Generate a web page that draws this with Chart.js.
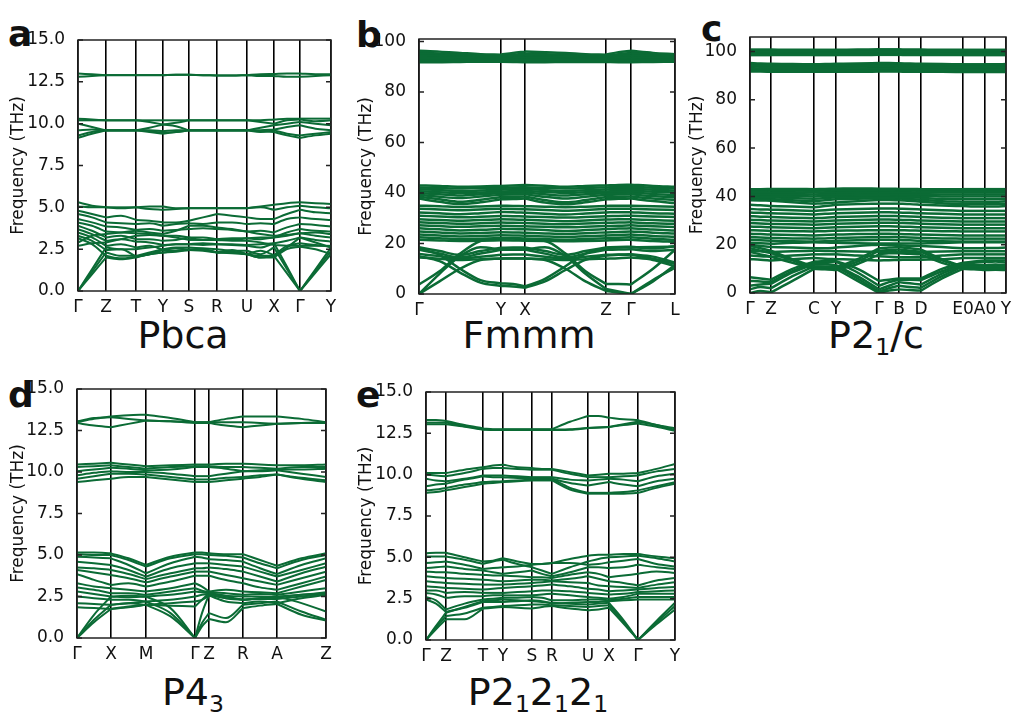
<!DOCTYPE html>
<html>
<head>
<meta charset="utf-8">
<script src="https://cdn.jsdelivr.net/npm/chart.js"></script>
<style>
  body { margin: 0; width: 1013px; height: 717px; background: #fff; position: relative; overflow: hidden; }
  .letter { position: absolute; font-family: 'DejaVu Sans', sans-serif; font-weight: bold; font-size: 36px; line-height: 36px; color: #111; }
  .title { position: absolute; width: 240px; text-align: center; font-family: 'DejaVu Sans', sans-serif; font-size: 38px; line-height: 38px; color: #111; }
  .title sub { font-size: 0.62em; vertical-align: -0.3em; line-height: 0; }
</style>
</head>
<body>
<div class="letter" style="left:8px;top:16px">a</div>
<div class="letter" style="left:356px;top:17px">b</div>
<div class="letter" style="left:701px;top:11px">c</div>
<div class="letter" style="left:8px;top:377px">d</div>
<div class="letter" style="left:356px;top:377px">e</div>
<div class="title" style="left:63px;top:316px">Pbca</div>
<div class="title" style="left:409px;top:316px">Fmmm</div>
<div class="title" style="left:756px;top:316px">P2<sub>1</sub>/c</div>
<div class="title" style="left:73px;top:673px">P4<sub>3</sub></div>
<div class="title" style="left:418px;top:673px">P2<sub>1</sub>2<sub>1</sub>2<sub>1</sub></div>

<script>
// ---- panel a : Pbca ----
var pbcaK = [0,14,28,43,58,71.5,85,98,111,125,139,154,169,182.5,196,209,222,237.5,253];
var pbcaTicks = [0,28,58,85,111,139,169,196,222,253];
var pbcaLabels = ['Γ','Z','T','Y','S','R','U','X','Γ','Y'];
var pbcaYTicks = [0,2.5,5,7.5,10,12.5,15];
var pbcaBands = [
  [13.0,12.95,12.9,12.9,12.9,12.9,12.9,12.92,12.92,12.9,12.88,12.88,12.9,12.95,12.97,13.0,13.0,12.95,12.95],
  [12.8,12.85,12.9,12.9,12.9,12.9,12.9,12.92,12.92,12.9,12.88,12.88,12.9,12.85,12.85,12.8,12.8,12.85,12.9],
  [10.3,10.25,10.2,10.2,10.2,10.2,10.2,10.2,10.2,10.2,10.2,10.2,10.2,10.2,10.25,10.3,10.3,10.3,10.3],
  [10.2,10.2,10.2,10.2,10.2,10.1,9.95,10.05,10.2,10.2,10.2,10.2,10.2,10.1,10.0,10.2,10.25,10.15,10.2],
  [10.0,9.8,9.6,9.6,9.6,9.75,9.95,9.85,9.6,9.6,9.6,9.6,9.6,9.75,9.9,10.0,10.1,10.0,9.9],
  [9.6,9.65,9.6,9.6,9.6,9.55,9.45,9.5,9.6,9.6,9.6,9.6,9.6,9.6,9.65,9.8,9.9,9.7,9.6],
  [9.3,9.5,9.6,9.6,9.6,9.6,9.55,9.6,9.6,9.6,9.6,9.6,9.6,9.5,9.6,9.4,9.3,9.4,9.5],
  [9.15,9.4,9.6,9.6,9.6,9.5,9.4,9.5,9.6,9.6,9.6,9.6,9.6,9.55,9.5,9.3,9.15,9.3,9.4],
  [5.3,5.1,5.0,5.0,5.0,5.05,5.05,4.95,4.95,4.95,4.95,4.95,4.95,5.05,5.15,5.25,5.3,5.25,5.2],
  [5.05,5.0,5.0,4.95,5.0,4.9,4.85,4.9,4.95,4.95,4.95,4.95,4.95,5.0,4.85,5.0,5.1,5.0,4.95],
  [4.8,4.6,4.4,4.5,4.25,4.2,4.1,4.1,4.2,4.4,4.6,4.5,4.4,4.3,4.3,4.6,4.85,4.7,4.65],
  [4.6,4.4,4.1,4.05,4.0,4.05,3.9,4.0,4.05,4.0,4.1,4.1,4.0,4.05,4.0,4.3,4.4,4.3,4.25],
  [4.3,4.1,3.85,3.8,3.65,3.7,3.6,3.65,3.7,3.75,3.7,3.65,3.55,3.6,3.5,3.8,4.0,3.95,3.85],
  [4.1,3.9,3.55,3.5,3.45,3.4,3.3,3.3,3.2,3.2,3.1,3.15,3.15,3.2,3.2,3.5,3.7,3.6,3.55],
  [3.9,3.6,3.2,3.3,3.1,3.1,3.0,3.05,3.2,3.05,3.1,3.05,3.15,3.1,3.2,3.3,3.45,3.3,3.2],
  [3.7,3.4,3.0,3.1,2.95,2.9,2.75,2.8,2.8,2.85,2.8,2.8,2.75,2.8,2.85,3.0,3.2,3.05,2.95],
  [3.5,3.2,2.7,2.8,2.6,2.7,2.45,2.55,2.45,2.5,2.3,2.45,2.2,2.4,2.15,2.7,2.85,2.75,2.65],
  [3.3,3.0,2.45,2.5,2.05,2.2,2.45,2.4,2.45,2.5,2.3,2.35,2.2,2.0,2.0,2.5,2.65,2.5,2.2],
  [3.15,2.8,2.1,1.95,2.05,2.2,2.3,2.35,2.45,2.4,2.3,2.3,2.2,2.1,2.1,2.6,3.2,2.9,2.6],
  [2.9,3.3,3.4,3.5,3.6,3.5,3.4,3.6,3.9,3.9,3.8,3.7,3.55,3.4,3.3,3.35,3.45,3.5,3.4],
  [2.7,2.85,2.9,3.1,3.3,3.35,3.3,3.2,3.05,3.05,3.05,3.0,3.0,2.9,2.75,2.7,2.7,2.7,2.7],
  [0,1.0,2.0,1.9,2.0,2.2,2.3,2.4,2.5,2.45,2.3,2.25,2.2,2.0,2.1,1.05,0,1.1,2.2],
  [0,1.15,2.3,2.1,2.1,2.3,2.5,2.6,2.6,2.55,2.5,2.4,2.4,2.2,2.6,1.3,0,1.2,2.4],
  [0,1.3,2.6,2.5,2.5,2.6,2.7,2.8,2.8,2.75,2.8,2.75,2.7,2.6,2.85,1.45,0,1.3,2.6]
];

// ---- panel b : Fmmm ----
var fmmmK = [0,20.5,41,61.5,82,94,106,126,146.5,166.5,187,199.5,212,234,256];
var fmmmTicks = [0,82,106,187,212,256];
var fmmmLabels = ['Γ','Y','X','Z','Γ','L'];
var fmmmYTicks = [0,20,40,60,80,100];
var fmmmBands = [
  [96.3,96.0,95.5,95.0,94.8,95.5,96.0,95.8,95.5,95.0,94.8,95.8,96.3,95.5,95.0],
  [95.5,95.3,95.0,94.7,94.5,94.8,95.2,95.0,94.8,94.6,94.5,95.0,95.5,95.0,94.7],
  [94.8,94.7,94.5,94.3,94.2,94.4,94.6,94.5,94.3,94.2,94.1,94.5,94.8,94.5,94.3],
  [94.0,94.0,93.9,93.8,93.7,93.8,93.9,93.9,93.8,93.7,93.6,93.8,94.0,93.8,93.8],
  [93.3,93.3,93.3,93.3,93.3,93.2,93.2,93.2,93.2,93.2,93.2,93.3,93.3,93.3,93.3],
  [92.7,92.7,92.8,92.8,92.8,92.7,92.6,92.7,92.7,92.7,92.7,92.7,92.7,92.8,92.8],
  [92.2,92.2,92.3,92.3,92.3,92.2,92.1,92.2,92.2,92.2,92.2,92.2,92.2,92.3,92.3],
  [91.8,91.8,91.9,92.0,92.0,91.9,91.8,91.8,91.9,91.9,91.9,91.8,91.8,91.9,92.0],
  [43.0,42.8,42.5,42.6,42.8,43.0,43.2,42.9,42.5,42.8,43.0,43.2,43.3,42.8,42.5],
  [42.2,42.0,41.8,41.9,42.0,42.2,42.3,42.0,41.8,42.0,42.2,42.4,42.5,42.1,41.9],
  [41.5,41.2,40.8,41.0,41.3,41.5,41.6,41.2,40.8,41.1,41.4,41.6,41.7,41.3,41.0],
  [40.7,40.3,40.0,40.2,40.5,40.8,40.9,40.4,40.0,40.3,40.6,40.8,40.9,40.5,40.2],
  [40.0,39.5,39.0,39.5,40.0,40.1,40.2,39.5,39.0,39.5,40.0,40.1,40.2,39.6,39.2],
  [39.3,38.5,38.0,38.6,39.3,39.4,39.5,38.5,37.8,38.5,39.3,39.4,39.5,38.8,38.3],
  [38.5,37.5,36.5,37.3,38.4,38.5,38.6,37.2,36.3,37.2,38.4,38.5,38.6,37.8,37.2],
  [37.8,36.5,35.6,36.3,37.5,37.6,37.8,36.2,35.5,36.3,37.5,37.7,37.8,36.8,36.0],
  [35.0,34.8,34.5,34.7,35.0,34.9,34.8,34.6,34.4,34.6,34.9,35.0,35.0,34.8,34.6],
  [33.8,33.5,33.2,33.5,33.8,33.7,33.6,33.3,33.0,33.3,33.7,33.8,33.8,33.5,33.3],
  [32.3,32.0,31.6,32.0,32.5,32.4,32.2,31.8,31.5,31.9,32.3,32.4,32.4,32.0,31.8],
  [31.0,30.7,30.4,30.6,30.9,30.8,30.7,30.5,30.3,30.5,30.8,30.9,31.0,30.7,30.5],
  [29.6,29.3,29.0,29.3,29.6,29.5,29.4,29.1,28.8,29.1,29.5,29.6,29.6,29.3,29.0],
  [28.4,28.1,27.8,28.0,28.3,28.2,28.1,27.8,27.6,27.9,28.2,28.3,28.4,28.0,27.8],
  [27.2,26.9,26.6,26.8,27.0,26.9,26.8,26.6,26.4,26.6,26.9,27.0,27.2,26.8,26.5],
  [26.0,25.6,25.2,25.4,25.8,25.7,25.6,25.3,25.0,25.3,25.7,25.9,26.0,25.5,25.2],
  [24.8,24.4,24.0,24.2,24.5,24.4,24.3,24.0,23.8,24.1,24.4,24.6,24.8,24.3,24.0],
  [23.6,23.2,22.8,23.0,23.3,23.2,23.1,22.8,22.6,22.9,23.2,23.4,23.6,23.0,22.7],
  [22.5,22.1,21.7,21.9,22.2,22.1,22.0,21.7,21.5,21.8,22.1,22.3,22.5,21.9,21.5],
  [21.5,21.2,21.0,21.1,21.3,21.2,21.1,21.0,20.9,21.0,21.2,21.4,21.5,21.0,20.7],
  [18.5,17.0,15.5,17.0,18.3,18.4,18.4,17.0,15.5,17.0,18.4,18.6,18.7,18.0,18.9],
  [17.5,16.0,14.5,16.0,17.5,17.6,17.6,16.0,14.5,16.0,17.5,17.6,17.7,17.0,17.5],
  [15.8,15.0,14.0,14.8,15.5,15.6,15.6,14.8,14.0,14.8,15.5,15.6,15.7,14.8,12.5],
  [14.5,14.0,13.5,13.8,14.0,14.1,14.1,13.8,13.5,13.8,14.0,14.2,14.5,13.5,11.0],
  [0,8,15,18.5,17.6,17.5,17.6,18.5,15,8,2.0,1.0,0,5.5,10.5],
  [0,5,10,13.5,14.1,14.1,14.1,13.5,10,5,1.2,0.6,0,5,11.5],
  [18.0,15.5,10,5.5,4.2,4.0,3.0,6,11,16,18.2,18.4,18.5,18.6,18.8],
  [15.0,13,8.5,4.5,3.2,3.0,2.5,5,9.5,13.5,15.2,15.5,15.6,14,12],
  [3.8,9,16,21,22,22,21.5,21,16,9,4,4,3.8,10,17.5]
];

// ---- panel c : P2_1/c ----
var p21cK = [0,10.5,21,42.5,64,75,86,107.5,129,139,149,160,171,192,213,224,235,245.5,256];
var p21cTicks = [0,21,64,86,129,149,171,213,235,256];
var p21cLabels = ['Γ','Z','C','Y','Γ','B','D','E0','A0','Y'];
var p21cYTicks = [0,20,40,60,80,100];
var p21cBands = [
  [100.8,100.8,100.8,100.7,100.7,100.7,100.7,100.8,100.9,100.9,100.9,100.8,100.8,100.7,100.7,100.7,100.7,100.7,100.7],
  [100.2,100.2,100.2,100.1,100.1,100.1,100.1,100.2,100.3,100.3,100.3,100.2,100.2,100.1,100.1,100.1,100.1,100.1,100.1],
  [99.6,99.6,99.6,99.6,99.5,99.5,99.5,99.6,99.7,99.7,99.7,99.6,99.6,99.5,99.5,99.5,99.5,99.5,99.5],
  [99.0,99.0,99.0,99.0,99.0,99.0,99.0,99.0,99.1,99.1,99.1,99.0,99.0,99.0,99.0,99.0,99.0,99.0,99.0],
  [98.5,98.5,98.5,98.5,98.5,98.5,98.5,98.5,98.6,98.6,98.6,98.5,98.5,98.5,98.5,98.5,98.5,98.5,98.5],
  [95.2,95.0,94.9,94.8,94.7,94.8,94.9,95.0,95.2,95.2,95.1,95.0,94.9,94.8,94.7,94.7,94.7,94.7,94.8],
  [94.5,94.4,94.3,94.2,94.1,94.2,94.3,94.4,94.5,94.5,94.4,94.3,94.3,94.2,94.1,94.1,94.1,94.1,94.2],
  [93.8,93.7,93.6,93.6,93.5,93.6,93.6,93.7,93.8,93.8,93.7,93.7,93.6,93.5,93.5,93.5,93.5,93.5,93.5],
  [93.1,93.0,93.0,92.9,92.9,92.9,92.9,93.0,93.1,93.1,93.0,93.0,92.9,92.9,92.9,92.9,92.9,92.9,92.9],
  [92.4,92.3,92.3,92.3,92.2,92.2,92.2,92.3,92.4,92.4,92.3,92.3,92.3,92.2,92.2,92.2,92.2,92.2,92.2],
  [91.7,91.7,91.6,91.6,91.6,91.6,91.6,91.6,91.7,91.7,91.7,91.6,91.6,91.6,91.5,91.5,91.5,91.5,91.5],
  [43.0,43.0,43.1,43.1,43.0,43.1,43.2,43.3,43.2,43.2,43.1,43.1,43.0,43.0,43.0,43.0,43.0,43.0,43.0],
  [42.3,42.3,42.4,42.4,42.3,42.4,42.5,42.6,42.5,42.5,42.4,42.4,42.3,42.3,42.3,42.3,42.3,42.3,42.3],
  [41.6,41.6,41.7,41.7,41.6,41.7,41.8,41.9,41.8,41.8,41.7,41.7,41.6,41.6,41.6,41.6,41.6,41.6,41.6],
  [41.0,41.0,41.0,40.9,40.8,40.9,41.0,41.1,41.1,41.1,41.0,41.0,40.9,40.8,40.8,40.8,40.8,40.8,40.8],
  [40.4,40.3,40.3,40.1,40.0,40.2,40.3,40.4,40.5,40.5,40.4,40.3,40.2,40.0,40.0,40.0,40.0,40.0,40.0],
  [39.8,39.7,39.6,39.3,39.0,39.3,39.6,39.8,39.9,39.9,39.8,39.6,39.4,39.0,38.9,38.9,38.9,38.9,39.0],
  [39.1,39.0,38.9,38.4,38.0,38.4,38.8,39.0,39.2,39.2,39.1,38.9,38.6,38.0,37.8,37.8,37.8,37.8,38.0],
  [38.4,38.3,38.2,37.6,37.0,37.2,37.5,38.0,38.5,38.5,38.4,38.1,37.8,37.2,36.8,36.8,36.8,36.8,37.0],
  [36.5,36.3,36.0,35.8,35.5,36.0,36.5,36.8,37.0,37.0,37.0,36.8,36.5,36.2,36.0,35.8,35.8,35.8,36.0],
  [34.8,34.6,34.5,34.3,34.0,34.3,34.6,34.8,35.0,35.0,34.9,34.8,34.6,34.3,34.0,34.0,34.0,34.0,34.0],
  [33.3,33.2,33.0,32.8,32.5,32.8,33.0,33.2,33.4,33.4,33.3,33.2,33.0,32.8,32.5,32.5,32.5,32.5,32.5],
  [31.8,31.6,31.5,31.2,31.0,31.2,31.5,31.7,31.9,31.9,31.8,31.7,31.5,31.2,31.0,31.0,31.0,31.0,31.0],
  [30.3,30.2,30.0,29.8,29.6,29.8,30.0,30.2,30.4,30.4,30.3,30.2,30.0,29.8,29.6,29.6,29.6,29.6,29.6],
  [29.0,28.8,28.6,28.5,28.3,28.5,28.7,28.9,29.1,29.1,29.0,28.9,28.7,28.5,28.3,28.3,28.3,28.3,28.3],
  [27.5,27.4,27.2,27.0,26.8,27.0,27.2,27.4,27.6,27.6,27.5,27.4,27.2,27.0,26.8,26.8,26.8,26.8,26.8],
  [26.0,25.9,25.7,25.6,25.5,25.6,25.8,25.9,26.0,26.0,26.0,25.9,25.8,25.6,25.5,25.5,25.5,25.5,25.5],
  [24.5,24.4,24.2,24.0,23.8,24.0,24.2,24.4,24.5,24.5,24.4,24.3,24.2,24.0,23.8,23.8,23.8,23.8,23.8],
  [23.2,23.0,22.8,22.6,22.5,22.6,22.8,23.0,23.2,23.2,23.1,23.0,22.8,22.6,22.5,22.5,22.5,22.5,22.5],
  [22.0,21.8,21.6,21.4,21.3,21.4,21.6,21.8,22.0,22.0,21.9,21.8,21.6,21.4,21.3,21.3,21.3,21.3,21.3],
  [20.8,20.6,20.4,20.8,21.0,20.9,20.8,20.6,20.5,20.5,20.5,20.5,20.5,20.7,21.0,21.0,21.0,21.0,21.0],
  [20.0,19.5,19.0,18.8,18.5,18.5,18.8,19.5,20.0,20.0,19.8,19.5,19.5,19.0,18.5,18.5,18.6,18.6,18.8],
  [17.5,17.3,17.0,17.3,17.5,17.4,17.3,17.2,17.0,17.0,17.0,17.0,17.0,17.2,17.3,17.3,17.3,17.3,17.3],
  [15.5,15.2,15.0,15.5,16.0,16.0,16.0,15.5,15.2,15.0,14.8,14.8,14.8,15.5,16.0,16.0,16.0,16.0,16.0],
  [14.0,13.8,13.5,14.0,14.5,14.2,14.0,13.8,13.5,13.6,13.7,13.8,13.8,14.0,14.5,14.5,14.5,14.5,14.5],
  [19.5,18.5,17.5,14.0,11.0,10.8,10.5,14.0,18.5,18.8,19.0,18.5,18.0,14.0,11.0,11.0,11.0,11.0,11.0],
  [18.5,17.5,16.5,13.5,10.5,10.5,10.2,13.0,17.5,17.8,18.0,17.5,17.0,13.5,10.5,10.5,10.5,10.2,10.5],
  [17.0,16.0,15.0,12.5,10.0,9.8,9.5,12.0,16.0,16.5,16.5,16.2,16.0,12.5,10.0,9.8,9.5,9.6,9.5],
  [0,0.8,0.3,5.0,10.0,10.0,10.0,5.0,0,1.0,1.5,1.2,1.0,6.0,10.0,10.0,10.0,10.0,10.0],
  [1.5,2.5,2.0,7.0,11.0,11.0,11.0,6.0,0.5,2.0,3.0,2.5,2.2,7.0,11.0,11.0,11.0,11.0,11.0],
  [3.0,3.5,3.8,8.5,12.0,12.0,11.5,7.0,1.5,3.0,4.5,4.0,3.5,8.0,11.5,11.5,11.5,11.8,11.5],
  [5.0,4.8,4.5,9.0,12.5,12.8,13.0,8.5,3.0,4.5,5.5,5.5,5.3,9.0,12.0,12.5,12.8,13.0,12.5],
  [6.5,6.0,5.5,10.0,13.0,13.2,13.2,10.0,5.0,5.5,6.0,6.0,6.0,10.0,12.5,13.0,13.5,13.5,13.5]
];

// ---- panel d : P4_3 ----
var p43K = [0,17,34,51.5,69,93.5,118,125,132,149,166,183,200,224.5,249];
var p43Ticks = [0,34,69,118,132,166,200,249];
var p43Labels = ['Γ','X','M','Γ','Z','R','A','Z'];
var p43YTicks = [0,2.5,5,7.5,10,12.5,15];
var p43Bands = [
  [13.0,13.2,13.35,13.42,13.45,13.25,13.0,13.0,13.0,13.2,13.35,13.35,13.35,13.2,13.0],
  [12.95,12.8,12.7,12.9,13.1,13.05,12.95,12.95,12.95,12.8,12.7,12.8,12.9,12.95,12.95],
  [13.05,13.25,13.3,13.2,13.1,13.05,13.0,13.0,13.0,13.0,13.0,12.95,12.9,12.95,13.0],
  [10.45,10.5,10.55,10.45,10.35,10.4,10.45,10.45,10.45,10.5,10.5,10.45,10.4,10.4,10.45],
  [10.3,10.35,10.4,10.3,10.2,10.3,10.35,10.35,10.35,10.3,10.3,10.25,10.2,10.3,10.3],
  [10.05,10.15,10.25,10.2,10.1,10.15,10.3,10.3,10.3,10.2,10.05,10.1,10.15,10.15,10.2],
  [9.8,9.95,10.05,10.0,10.0,9.9,9.75,9.75,9.75,9.9,10.05,10.05,10.1,9.9,9.7],
  [9.6,9.75,9.9,9.9,9.85,9.7,9.55,9.55,9.55,9.65,9.7,9.8,9.85,9.65,9.5],
  [9.4,9.5,9.6,9.7,9.7,9.55,9.4,9.4,9.4,9.5,9.6,9.7,9.85,9.6,9.4],
  [5.15,5.15,5.1,4.8,4.4,4.9,5.15,5.15,5.1,5.05,5.05,4.7,4.35,4.8,5.1],
  [5.05,5.0,5.0,4.7,4.3,4.8,5.05,5.05,5.0,4.95,4.85,4.5,4.2,4.7,5.0],
  [4.9,4.85,4.8,4.4,3.9,4.5,4.9,4.85,4.75,4.7,4.6,4.2,3.85,4.4,4.8],
  [4.6,4.5,4.4,4.1,3.7,4.2,4.5,4.5,4.5,4.4,4.3,4.0,3.7,4.1,4.5],
  [4.25,4.2,4.1,3.85,3.55,3.9,4.2,4.2,4.25,4.15,4.0,3.7,3.4,3.9,4.3],
  [4.1,3.95,3.8,3.6,3.35,3.7,4.0,4.0,4.0,3.8,3.6,3.4,3.2,3.6,4.0],
  [3.85,3.5,3.2,3.3,3.1,3.4,3.75,3.75,3.75,3.5,3.3,3.05,2.9,3.3,3.7],
  [3.3,3.1,3.0,2.9,2.8,3.0,3.3,3.1,2.8,2.9,2.8,2.75,2.7,3.1,3.5],
  [3.05,2.9,2.7,2.7,2.6,2.8,3.0,2.85,2.75,2.7,2.6,2.65,2.6,2.8,3.0],
  [2.8,2.65,2.5,2.55,2.5,2.6,2.8,2.75,2.7,2.55,2.5,2.5,2.45,2.6,2.75],
  [2.5,2.4,2.3,2.3,2.2,2.3,2.5,2.6,2.65,2.4,2.3,2.35,2.35,2.5,2.65],
  [2.1,2.05,2.0,2.1,2.0,2.1,2.2,2.3,2.55,2.2,2.1,2.2,2.1,2.4,2.6],
  [1.85,1.8,1.75,1.85,2.0,1.95,1.9,2.3,2.7,2.5,2.3,2.4,2.5,2.6,2.7],
  [0,0.95,1.75,1.9,2.0,1.3,0,0.7,1.15,0.95,1.8,1.95,2.05,1.4,1.05],
  [0,1.1,2.0,2.1,2.2,1.5,0,0.9,1.5,1.2,2.0,2.1,2.2,1.6,1.1],
  [0,1.4,2.5,2.45,2.5,1.8,0,1.5,2.6,2.4,2.3,2.4,2.5,2.1,1.6]
];

// ---- panel e : P2_1 2_1 2_1 ----
var p212121K = [0,10,20,38.5,57,67,77,91.5,106,116,126,144,162,172.5,183,197.5,212,230.5,249];
var p212121Ticks = [0,20,57,77,106,126,162,183,212,249];
var p212121Labels = ['Γ','Z','T','Y','S','R','U','X','Γ','Y'];
var p212121YTicks = [0,2.5,5,7.5,10,12.5,15];
var p212121Bands = [
  [13.3,13.3,13.25,13.0,12.8,12.75,12.75,12.75,12.75,12.75,12.75,13.2,13.55,13.55,13.45,13.35,13.3,13.0,12.8],
  [13.15,13.15,13.15,12.95,12.75,12.72,12.72,12.72,12.72,12.72,12.72,12.75,12.82,12.85,12.88,13.05,13.2,13.0,12.7],
  [13.05,13.05,13.05,12.9,12.72,12.7,12.7,12.7,12.7,12.7,12.7,12.72,12.82,12.85,12.88,13.0,13.1,12.9,12.65],
  [10.1,10.1,10.1,10.3,10.45,10.55,10.6,10.45,10.4,10.35,10.35,10.15,9.95,10.0,10.05,10.05,10.1,10.35,10.65],
  [10.0,9.95,9.9,10.1,10.35,10.4,10.4,10.35,10.3,10.3,10.3,10.05,9.85,9.85,9.85,9.9,9.95,10.2,10.35],
  [9.75,9.65,9.6,9.75,9.95,9.95,9.95,9.9,9.85,9.85,9.85,9.7,9.65,9.7,9.75,9.7,9.6,9.9,10.05],
  [9.3,9.4,9.45,9.7,9.9,9.85,9.85,9.8,9.8,9.75,9.75,9.5,9.35,9.45,9.55,9.4,9.3,9.6,9.75],
  [9.05,9.1,9.2,9.4,9.55,9.58,9.6,9.65,9.7,9.7,9.75,9.2,8.9,8.9,8.9,8.95,9.05,9.3,9.55],
  [8.9,8.95,9.05,9.25,9.45,9.5,9.55,9.6,9.65,9.65,9.65,9.1,8.85,8.85,8.85,8.85,8.9,9.2,9.45],
  [5.25,5.28,5.28,5.0,4.75,4.8,4.95,4.75,4.6,4.6,4.65,4.9,5.1,5.15,5.15,5.2,5.2,5.05,4.95],
  [5.05,5.05,5.05,4.85,4.6,4.75,4.85,4.6,4.4,4.2,4.0,4.4,4.75,4.9,5.0,5.05,5.1,4.95,4.75],
  [4.65,4.7,4.75,4.55,4.3,4.35,4.4,4.45,4.55,4.6,4.65,4.65,4.55,4.6,4.7,4.8,4.9,4.6,4.45],
  [4.35,4.4,4.45,4.3,4.2,4.1,4.0,4.1,4.2,4.0,3.85,4.1,4.4,4.4,4.35,4.4,4.55,4.4,4.3],
  [4.15,4.1,4.1,4.0,3.95,3.9,3.9,3.85,3.8,3.8,3.75,3.95,4.1,4.0,3.8,3.9,4.0,4.15,4.05],
  [3.85,3.8,3.75,3.7,3.65,3.6,3.55,3.6,3.65,3.65,3.6,3.7,3.85,3.7,3.55,3.45,3.3,3.6,3.75],
  [3.55,3.5,3.45,3.4,3.35,3.35,3.35,3.4,3.45,3.5,3.55,3.5,3.45,3.3,3.25,3.2,3.15,3.35,3.5],
  [3.25,3.2,3.15,3.1,3.05,3.1,3.15,3.2,3.25,3.3,3.35,3.25,3.1,3.05,2.95,3.0,3.05,3.15,3.2],
  [3.0,3.0,2.85,2.9,2.85,2.85,2.85,2.9,2.95,3.0,3.0,2.95,2.85,2.8,2.75,2.8,2.9,2.95,3.0],
  [2.85,2.75,2.55,2.65,2.65,2.7,2.7,2.7,2.7,2.75,2.8,2.7,2.6,2.55,2.5,2.6,2.8,2.8,2.8],
  [2.6,2.4,1.85,2.2,2.45,2.5,2.55,2.55,2.6,2.55,2.4,2.4,2.45,2.45,2.4,2.5,2.6,2.6,2.6],
  [2.45,2.2,1.7,1.95,2.3,2.3,2.3,2.35,2.4,2.35,2.2,2.25,2.3,2.3,2.35,2.4,2.45,2.45,2.45],
  [0,0.65,1.25,1.25,1.9,1.95,2.0,1.95,1.9,2.0,2.05,1.9,1.8,1.85,1.95,1.0,0,0.95,1.85],
  [0,0.75,1.45,1.6,1.95,2.0,2.05,2.1,2.15,2.15,2.1,2.05,2.0,2.05,2.1,1.1,0,1.05,2.05],
  [0,0.85,1.65,2.0,2.35,2.4,2.45,2.4,2.35,2.3,2.25,2.2,2.15,2.2,2.25,1.2,0,1.15,2.25]
];

var GREEN = '#0b6b35';
var FONT = "'DejaVu Sans', sans-serif";

// frame around the plot and inward ticks on both sides
var framePlugin = {
  id: 'frame',
  afterDraw: function(chart) {
    var ctx = chart.ctx, a = chart.chartArea, y = chart.scales.y;
    ctx.save();
    ctx.strokeStyle = '#222';
    ctx.lineWidth = 1.5;
    ctx.strokeRect(a.left, a.top, a.right - a.left, a.bottom - a.top);
    y.ticks.forEach(function(t) {
      var py = y.getPixelForValue(t.value);
      ctx.beginPath();
      ctx.moveTo(a.left, py); ctx.lineTo(a.left + 5, py);
      ctx.moveTo(a.right, py); ctx.lineTo(a.right - 5, py);
      ctx.stroke();
    });
    ctx.restore();
  }
};

// one dataset per band and per path segment, so the curve can kink at the high-symmetry points
function bandDatasets(p) {
  var out = [];
  p.bands.forEach(function(b) {
    for (var s = 0; s < p.ticks.length - 1; s++) {
      var pts = [];
      for (var i = 0; i < p.k.length; i++) {
        if (p.k[i] >= p.ticks[s] && p.k[i] <= p.ticks[s + 1]) pts.push({x: p.k[i], y: b[i]});
      }
      out.push({
        data: pts,
        borderColor: GREEN,
        borderWidth: p.lw,
        pointRadius: 0,
        fill: false,
        cubicInterpolationMode: 'monotone'
      });
    }
  });
  return out;
}

function drawPanel(p) {
  var c = document.createElement('canvas');
  c.width = p.box.w; c.height = p.box.h;
  c.style.cssText = 'position:absolute;left:' + p.box.left + 'px;top:' + p.box.top + 'px';
  document.body.appendChild(c);

  var yW = p.plot.l - p.box.left;
  var xH = p.box.top + p.box.h - p.plot.b;

  new Chart(c, {
    type: 'line',
    data: { datasets: bandDatasets(p) },
    options: {
      animation: false,
      responsive: false,
      events: [],
      layout: { padding: { left: 0, top: p.plot.t - p.box.top, right: p.box.left + p.box.w - p.plot.r, bottom: 0 } },
      plugins: { legend: { display: false }, tooltip: { enabled: false } },
      scales: {
        x: {
          type: 'linear', min: 0, max: p.ticks[p.ticks.length - 1], z: 1,
          afterBuildTicks: function(s) { s.ticks = p.ticks.map(function(v) { return {value: v}; }); },
          afterFit: function(s) { s.height = xH; s.paddingLeft = 0; s.paddingRight = 0; },
          grid: { color: '#000', lineWidth: 1.6, drawTicks: false },
          border: { display: false },
          ticks: {
            autoSkip: false, maxRotation: 0, minRotation: 0, padding: 6, color: '#111',
            font: { family: FONT, size: 17 },
            callback: function(v, i) { return p.labels[i]; }
          }
        },
        y: {
          type: 'linear', min: 0, max: p.yMax,
          afterBuildTicks: function(s) { s.ticks = p.yTicks.map(function(v) { return {value: v}; }); },
          afterFit: function(s) { s.width = yW; s.paddingTop = 0; s.paddingBottom = 0; },
          grid: { display: false },
          border: { display: false },
          ticks: {
            padding: 5, color: '#111',
            font: { family: FONT, size: 17 },
            callback: function(v) { return v.toFixed(p.dec); }
          },
          title: {
            display: true, text: 'Frequency (THz)', color: '#111',
            font: { family: FONT, size: 17 },
            padding: { top: p.titlePad, bottom: 0 }
          }
        }
      }
    },
    plugins: [framePlugin]
  });
}

drawPanel({ k: pbcaK, bands: pbcaBands, ticks: pbcaTicks, labels: pbcaLabels, yTicks: pbcaYTicks, yMax: 15, dec: 1, lw: 2,
  box: {left: 0, top: 30, w: 345, h: 300}, plot: {l: 78, t: 40, r: 331, b: 291}, titlePad: 8 });
drawPanel({ k: fmmmK, bands: fmmmBands, ticks: fmmmTicks, labels: fmmmLabels, yTicks: fmmmYTicks, yMax: 101, dec: 0, lw: 2.5,
  box: {left: 350, top: 30, w: 330, h: 300}, plot: {l: 419, t: 39, r: 675, b: 294}, titlePad: 6 });
drawPanel({ k: p21cK, bands: p21cBands, ticks: p21cTicks, labels: p21cLabels, yTicks: p21cYTicks, yMax: 106, dec: 0, lw: 2.5,
  box: {left: 685, top: 26, w: 328, h: 304}, plot: {l: 750, t: 37, r: 1006, b: 293}, titlePad: 2 });
drawPanel({ k: p43K, bands: p43Bands, ticks: p43Ticks, labels: p43Labels, yTicks: p43YTicks, yMax: 15, dec: 1, lw: 2,
  box: {left: 0, top: 378, w: 340, h: 300}, plot: {l: 77, t: 389, r: 326, b: 638}, titlePad: 8 });
drawPanel({ k: p212121K, bands: p212121Bands, ticks: p212121Ticks, labels: p212121Labels, yTicks: p212121YTicks, yMax: 15, dec: 1, lw: 2,
  box: {left: 350, top: 380, w: 330, h: 300}, plot: {l: 426, t: 392, r: 675, b: 640}, titlePad: 6 });
</script>
</body>
</html>
